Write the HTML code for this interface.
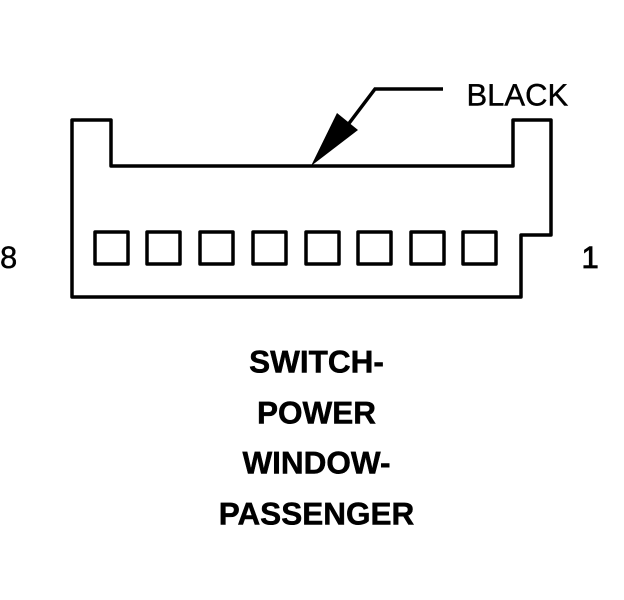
<!DOCTYPE html>
<html>
<head>
<meta charset="utf-8">
<style>
html,body{margin:0;padding:0;background:#fff;width:624px;height:600px;overflow:hidden}
svg{display:block}
text{font-family:"Liberation Sans",Arial,sans-serif;fill:#000;text-rendering:geometricPrecision}
</style>
</head>
<body>
<svg width="624" height="600" viewBox="0 0 624 600" xmlns="http://www.w3.org/2000/svg">
<rect width="624" height="600" fill="#fff"/>
<path d="M72 120H111V166H513V120H551V235H521V297H72Z" fill="none" stroke="#000" stroke-width="3.500" stroke-linejoin="round"/>
<g fill="none" stroke="#000" stroke-width="3.500" stroke-linejoin="round">
<rect x="95" y="232" width="33" height="32"/>
<rect x="147" y="232" width="33" height="32"/>
<rect x="200" y="232" width="33" height="32"/>
<rect x="253" y="232" width="33" height="32"/>
<rect x="306" y="232" width="33" height="32"/>
<rect x="358" y="232" width="33" height="32"/>
<rect x="411" y="232" width="33" height="32"/>
<rect x="463" y="232" width="33" height="32"/>
</g>
<path d="M347 126L375 89H443" fill="none" stroke="#000" stroke-width="3.500"/>
<path d="M311 166L337 113L358 130Z" fill="#000"/>
<text x="466.500" y="105.500" font-size="31" stroke="#000" stroke-width="0.4">BLACK</text>
<text x="0" y="268" font-size="31" stroke="#000" stroke-width="0.4">8</text>
<text x="581.500" y="268" font-size="31" stroke="#000" stroke-width="0.8">1</text>
<g font-size="31.500" font-weight="bold" text-anchor="middle" stroke="#000" stroke-width="0.5">
<text x="316.500" y="372.500">SWITCH-</text>
<text x="316.500" y="423.500">POWER</text>
<text x="316.500" y="473.500">WINDOW-</text>
<text x="316.500" y="524.500">PASSENGER</text>
</g>
</svg>
</body>
</html>
